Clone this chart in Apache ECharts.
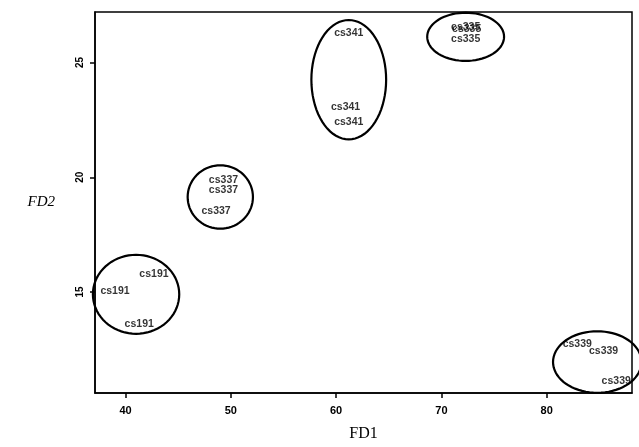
<!DOCTYPE html>
<html><head><meta charset="utf-8">
<script src="https://cdn.jsdelivr.net/npm/echarts@6/dist/echarts.min.js"></script>
<style>html,body{margin:0;padding:0;background:#fff}#c{width:639px;height:447px}</style>
</head><body><div id="c"></div>
<script>
// Point labels (cultivar names) and their FD1 / FD2 scores
const labels = ['cs341','cs341','cs341','cs335','cs335','cs335','cs337','cs337','cs337','cs191','cs191','cs191','cs339','cs339','cs339'];
const fd1 =    [61.2, 60.9, 61.2, 72.3, 72.4, 72.3, 49.3, 49.3, 48.6, 42.7, 39.0, 41.3, 82.9, 85.4, 86.6];
const fd2 =    [26.3, 23.05, 22.4, 26.52, 26.45, 26.0, 19.87, 19.44, 18.53, 15.78, 15.04, 13.62, 12.72, 12.41, 11.12];
// Group ellipses: centre and half-axes in data units
const ellCx = [61.2, 72.3, 49.0, 41.0, 84.8];
const ellCy = [24.25, 26.12, 19.14, 14.9, 11.95];
const ellRx = [3.55, 3.65, 3.1, 4.1, 4.2];
const ellRy = [2.6, 1.05, 1.38, 1.72, 1.34];
const xTicks = [40, 50, 60, 70, 80];
const yTicks = [15, 20, 25];

const chart = echarts.init(document.getElementById('c'));
const pts = labels.map((n, i) => ({name: n, value: [fd1[i], fd2[i]]}));
const ells = ellCx.map((c, i) => [c, ellCy[i], ellRx[i], ellRy[i]]);
chart.setOption({
  animation: false,
  grid: {left: 95, top: 12, right: 7, bottom: 50, show: true, borderColor: '#000', borderWidth: 1.5},
  xAxis: {
    type: 'value', min: 37.1, max: 88.1,
    axisLine: {show: true, lineStyle: {color: '#000', width: 1.5}},
    axisTick: {show: true, length: 5, customValues: xTicks, lineStyle: {color: '#000', width: 1.5}},
    splitLine: {show: false},
    axisLabel: {color: '#000', fontWeight: 'bold', fontSize: 11, fontFamily: 'Liberation Sans, Arial', margin: 12,
      customValues: xTicks, formatter: v => String(v)},
    name: 'FD1', nameLocation: 'middle', nameGap: 33,
    nameTextStyle: {color: '#000', fontSize: 16, fontFamily: 'Liberation Serif, Times New Roman, serif'}
  },
  yAxis: {
    type: 'value', min: 10.6, max: 27.2,
    axisLine: {show: true, lineStyle: {color: '#000', width: 1.5}},
    axisTick: {show: true, length: 5, customValues: yTicks, lineStyle: {color: '#000', width: 1.5}},
    splitLine: {show: false},
    axisLabel: {color: '#000', fontWeight: 'bold', fontSize: 10, fontFamily: 'Liberation Sans, Arial', rotate: 90, margin: 10,
      customValues: yTicks, formatter: v => String(v)},
    name: 'FD2', nameLocation: 'middle', nameGap: 40, nameRotate: 0,
    nameTextStyle: {color: '#000', fontSize: 15, fontStyle: 'italic', fontFamily: 'Liberation Serif, Times New Roman, serif'}
  },
  series: [
    {
      type: 'custom',
      data: ells,
      renderItem: function (params, api) {
        const cx = api.value(0), cy = api.value(1), rx = api.value(2), ry = api.value(3);
        const points = [];
        for (let k = 0; k < 72; k++) {
          const t = k / 72 * Math.PI * 2;
          points.push(api.coord([cx + rx * Math.cos(t), cy + ry * Math.sin(t)]));
        }
        return {type: 'polygon', shape: {points: points}, style: {fill: 'none', stroke: '#000', lineWidth: 2.2}, silent: true};
      },
      clip: false
    },
    {
      type: 'scatter',
      data: pts,
      symbolSize: 0,
      label: {show: true, position: 'inside', formatter: p => p.name, color: '#000', fontSize: 10.5,
        fontWeight: 'bold', fontFamily: 'Liberation Sans, Arial'}
    }
  ]
});
</script></body></html>
